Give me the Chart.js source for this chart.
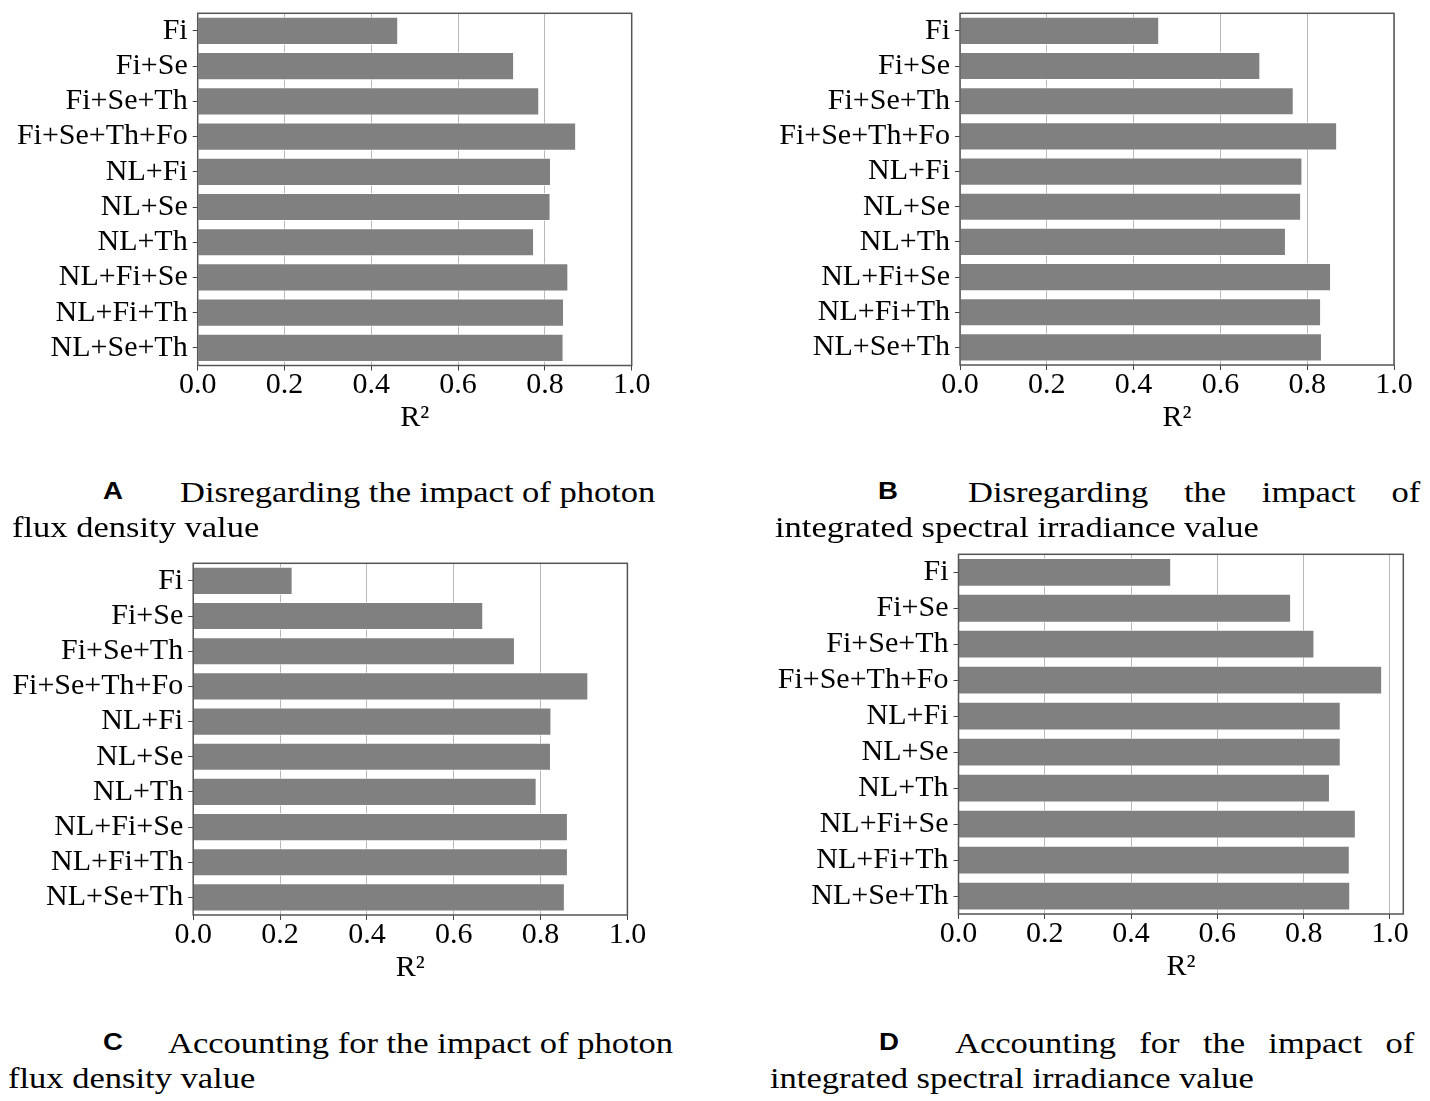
<!DOCTYPE html>
<html>
<head>
<meta charset="utf-8">
<script src="https://cdn.jsdelivr.net/npm/chart.js@4.4.1/dist/chart.umd.min.js"></script>
<style>
body { margin: 0; background: #fff; width: 1430px; height: 1101px; position: relative; overflow: hidden; font-family: "Liberation Serif", "Times New Roman", serif; }
canvas { position: absolute; }
.cap { position: absolute; font-size: 29px; line-height: 29px; white-space: nowrap; transform: scaleX(1.19); transform-origin: 0 0; color: #000; }
.just { white-space: normal; text-align: justify; text-align-last: justify; }
.tag { position: absolute; font-family: "Liberation Sans", Arial, sans-serif; font-weight: bold; font-size: 24px; line-height: 24px; transform: scaleX(1.15); transform-origin: 0 0; color: #000; }
</style>
</head>
<body>
<canvas id="chartA" width="715" height="460" style="left:0;top:0"></canvas>
<canvas id="chartB" width="715" height="460" style="left:715px;top:0"></canvas>
<canvas id="chartC" width="715" height="460" style="left:0;top:540px"></canvas>
<canvas id="chartD" width="715" height="460" style="left:715px;top:540px"></canvas>

<div class="tag" style="left:103px;top:479px">A</div>
<div class="cap" style="left:180px;top:478px">Disregarding the impact of photon</div>
<div class="cap" style="left:12px;top:513px">flux density value</div>

<div class="tag" style="left:878px;top:479px">B</div>
<div class="cap just" style="left:968px;top:478px;width:380px">Disregarding the impact of</div>
<div class="cap" style="left:775px;top:513px">integrated spectral irradiance value</div>

<div class="tag" style="left:103px;top:1030px">C</div>
<div class="cap" style="left:168px;top:1029px">Accounting for the impact of photon</div>
<div class="cap" style="left:8px;top:1064px">flux density value</div>

<div class="tag" style="left:879px;top:1030px">D</div>
<div class="cap just" style="left:955px;top:1029px;width:386px">Accounting for the impact of</div>
<div class="cap" style="left:770px;top:1064px">integrated spectral irradiance value</div>

<script>
// feature combinations, top to bottom
const combos = ['Fi', 'Fi+Se', 'Fi+Se+Th', 'Fi+Se+Th+Fo', 'NL+Fi', 'NL+Se', 'NL+Th', 'NL+Fi+Se', 'NL+Fi+Th', 'NL+Se+Th'];

// R² per panel
const r2A = [0.462, 0.729, 0.787, 0.872, 0.814, 0.813, 0.775, 0.854, 0.844, 0.843];
const r2B = [0.459, 0.692, 0.769, 0.869, 0.789, 0.786, 0.751, 0.855, 0.832, 0.834];
const r2C = [0.229, 0.668, 0.741, 0.910, 0.825, 0.824, 0.791, 0.863, 0.863, 0.856];
const r2D = [0.493, 0.771, 0.825, 0.982, 0.886, 0.886, 0.861, 0.921, 0.907, 0.908];

const xMaxA = 1.0;
const xMaxB = 1.0;
const xMaxC = 1.0;
const xMaxD = 1.031;
const xStep = 0.2;
const xTitle = 'R\u00b2';

const serif = '"Liberation Serif", "Times New Roman", serif';
const axisH = 68;

// dark frame round the plot area
const frame = {
    id: 'frame',
    afterDraw(chart) {
        const {ctx, chartArea: a} = chart;
        ctx.save();
        ctx.strokeStyle = '#555';
        ctx.lineWidth = 1.5;
        ctx.strokeRect(a.left, a.top, a.right - a.left, a.bottom - a.top);
        ctx.restore();
    }
};

function makePanel(id, values, xMax, cv, box) {
    const ctx = document.getElementById(id);
    return new Chart(ctx, {
        type: 'bar',
        data: {
            labels: combos,
            datasets: [{
                data: values,
                backgroundColor: '#808080',
                borderColor: 'rgba(255,255,255,0.7)',
                borderWidth: 1,
                borderSkipped: 'left',
                barPercentage: 0.8,
                categoryPercentage: 1.0
            }]
        },
        options: {
            indexAxis: 'y',
            responsive: false,
            animation: false,
            layout: {
                padding: {
                    top: box.t - cv.y,
                    right: cv.x + cv.w - box.r,
                    bottom: cv.y + cv.h - box.b - axisH,
                    left: 0
                }
            },
            plugins: {
                legend: { display: false },
                tooltip: { enabled: false }
            },
            scales: {
                x: {
                    type: 'linear',
                    min: 0,
                    max: xMax,
                    z: 1,
                    afterFit: s => {
                        s.height = axisH;
                        s.paddingLeft = 0;
                        s.paddingRight = 0;
                    },
                    grid: {
                        color: 'rgba(0,0,0,0.28)',
                        lineWidth: 1,
                        tickColor: '#444',
                        tickLength: 5
                    },
                    border: { display: false },
                    ticks: {
                        stepSize: xStep,
                        includeBounds: false,
                        padding: 0,
                        color: '#000',
                        font: { family: serif, size: 30, lineHeight: 1 },
                        callback: v => v.toFixed(1)
                    },
                    title: {
                        display: true,
                        text: xTitle,
                        color: '#000',
                        padding: { top: 0, bottom: 0 },
                        font: { family: serif, size: 30, lineHeight: 1 }
                    }
                },
                y: {
                    afterFit: s => {
                        s.width = box.l - cv.x;
                        s.paddingTop = 0;
                        s.paddingBottom = 0;
                    },
                    grid: {
                        drawOnChartArea: false,
                        offset: false,
                        tickColor: '#444',
                        tickLength: 5
                    },
                    border: { display: false },
                    ticks: {
                        padding: 5,
                        color: '#000',
                        font: { family: serif, size: 30, lineHeight: 1 }
                    }
                }
            }
        },
        plugins: [frame]
    });
}

makePanel('chartA', r2A, xMaxA, {x: 0, y: 0, w: 715, h: 460}, {l: 197.7, t: 13.3, r: 631.7, b: 365.5});
makePanel('chartB', r2B, xMaxB, {x: 715, y: 0, w: 715, h: 460}, {l: 960, t: 13.3, r: 1394, b: 365});
makePanel('chartC', r2C, xMaxC, {x: 0, y: 540, w: 715, h: 460}, {l: 193.2, t: 563.3, r: 627.4, b: 915});
makePanel('chartD', r2D, xMaxD, {x: 715, y: 540, w: 715, h: 460}, {l: 958.5, t: 554.3, r: 1403.3, b: 914});
</script>
</body>
</html>
